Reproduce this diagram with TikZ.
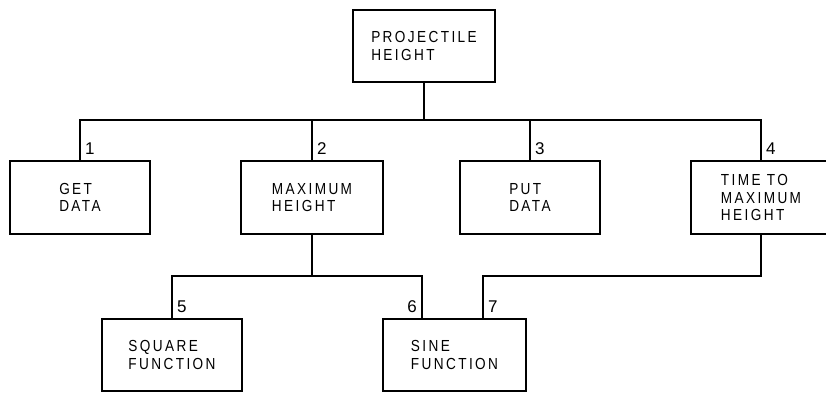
\documentclass[tikz,border=0pt]{standalone}
\usepackage{fontspec}
\setmainfont{Liberation Sans}
\newfontfamily\boxfont{Liberation Sans}[FakeStretch=0.85,LetterSpace=15]
\newfontfamily\numfont{Liberation Sans}
\usepackage{tikz}
\usetikzlibrary{
	positioning,
	calc
}

\begin{document}
\begin{tikzpicture}[
				x=1pt, y=-1pt,
				block/.style={
					rectangle, draw, line width=1.8pt,
					minimum width=140pt, minimum height=73pt,
					align=left, inner sep=0pt,
					font=\boxfont\fontsize{16}{17.5}\selectfont
				},
				wire/.style={line width=1.8pt, black},
				num/.style={
					inner xsep=5pt, inner ysep=5.5pt,
					font=\numfont\fontsize{17}{17}\selectfont
				}
				]
				
				\useasboundingbox (0,0) rectangle (826,393);
				
				% projectile height
				\node[block, minimum width=142pt, minimum height=72pt] (proj) at (424,46) {PROJECTILE\\HEIGHT};
				
				% get data
				\node[block] (getdata) at (80,197.5) {GET\\DATA};
				
				% maximum height
				\node[block, minimum width=142pt] (maxheight) at (312,197.5) {MAXIMUM\\HEIGHT};
				
				% put data
				\node[block] (putdata) at (530,197.5) {PUT\\DATA};
				
				% time to maximum height
				\node[block] (timemax) at (761,197.5) {TIME TO\\MAXIMUM\\HEIGHT};
				
				% square function
				\node[block, minimum height=72pt] (square) at (172,355) {SQUARE\\FUNCTION};
				
				% sine function
				\node[block, minimum width=143pt, minimum height=72pt] (sine) at (454.5,355) {SINE\\FUNCTION};
				
				% first level
				\coordinate (busA) at ($(proj.south |- 0,120)$);
				\draw[wire] (proj.south) -- (busA);
				\draw[wire] (getdata.north) |- (busA) -| (timemax.north);
				\draw[wire] (maxheight.north) -- (maxheight.north |- busA);
				\draw[wire] (putdata.north) -- (putdata.north |- busA);
				
				% second level
				\coordinate (busB) at ($(maxheight.south |- 0,276)$);
				\coordinate (sineL) at ([xshift=-32.5pt]sine.north);
				\coordinate (sineR) at ([xshift=28.5pt]sine.north);
				\draw[wire] (maxheight.south) -- (busB);
				\draw[wire] (square.north) |- (busB) -| (sineL);
				\draw[wire] (timemax.south) -- (timemax.south |- busB) -| (sineR);
				
				% numbers
				\node[num, anchor=south west] (n1) at (getdata.north) {1};
				\node[num, anchor=south west] (n2) at (maxheight.north) {2};
				\node[num, anchor=south west] (n3) at (putdata.north) {3};
				\node[num, anchor=south west] (n4) at (timemax.north) {4};
				\node[num, anchor=south west] (n5) at (square.north) {5};
				\node[num, anchor=south east] (n6) at (sineL) {6};
				\node[num, anchor=south west] (n7) at (sineR) {7};
			\end{tikzpicture}
\end{document}
